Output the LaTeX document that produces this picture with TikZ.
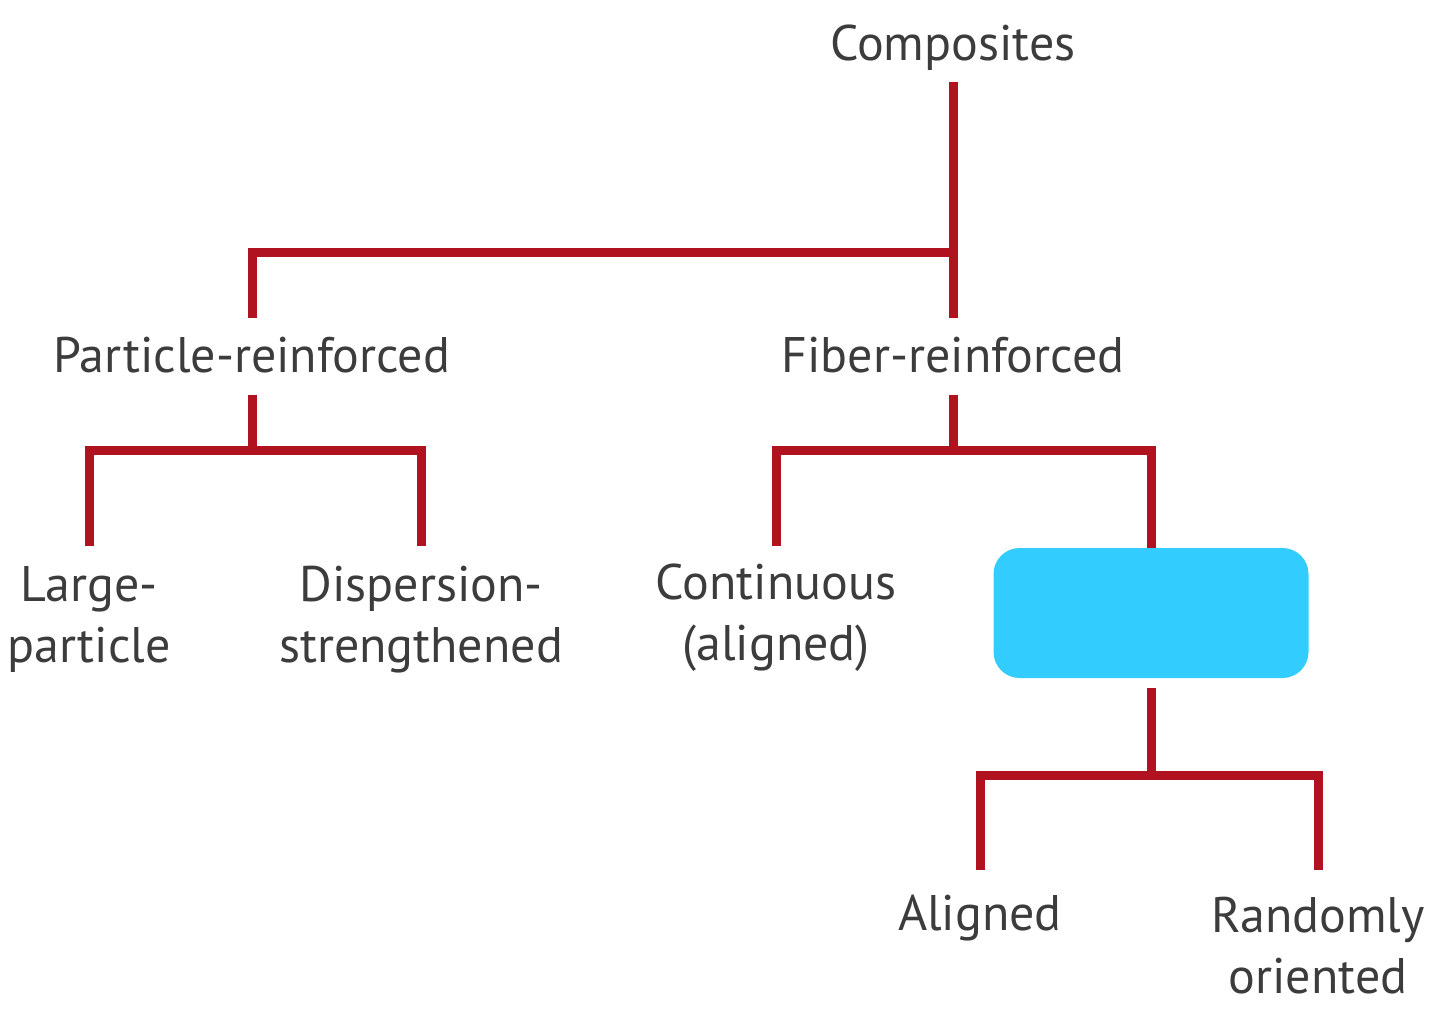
\documentclass[tikz,border=0pt]{standalone}
\usepackage{fontspec}
\setmainfont{PT Sans}
\definecolor{lnk}{HTML}{B0121F}
\definecolor{txt}{HTML}{3C3C3C}
\definecolor{hl}{HTML}{33CCFF}
\begin{document}
\begin{tikzpicture}[x=1pt,y=-1pt,
  lbl/.style={font=\fontsize{50}{61}\selectfont, text=txt, inner sep=0pt, align=center, anchor=base},
  link/.style={draw=lnk, line width=9pt, line join=miter, line cap=butt}]
\useasboundingbox (0,0) rectangle (1440,1028);
% levels
\coordinate (t1) at (0,82);
\coordinate (b1) at (0,252);
\coordinate (e1) at (0,318);
\coordinate (t2) at (0,395);
\coordinate (b2) at (0,450);
\coordinate (e2) at (0,546);
\coordinate (t3) at (0,688);
\coordinate (b3) at (0,775);
\coordinate (e3) at (0,870);
% nodes (two-line labels are anchored at the baseline of their last line)
\node[lbl] (comp) at (953,60) {Composites};
\node[lbl] (part) at (252,372) {Particle-reinforced};
\node[lbl] (fib) at (953,372) {Fiber-reinforced};
\node[lbl] (large) at (89,662) {Large-\\particle};
\node[lbl] (disp) at (421,662) {Dispersion-\\strengthened};
\node[lbl] (cont) at (776,660) {Continuous\\(aligned)};
\node[fill=hl, rounded corners=26pt, minimum width=315pt, minimum height=130pt, inner sep=0pt] (disc) at (1151,613) {};
\node[lbl] (alig) at (980,930) {Aligned};
\node[lbl] (rand) at (1318,993) {Randomly\\oriented};
% connectors
\draw[link] (comp |- t1) -- (fib |- e1);
\draw[link] (comp |- b1) -| (part |- e1);
\draw[link] (part |- t2) -- (part |- b2);
\draw[link] (large |- e2) |- (part |- b2) -| (disp |- e2);
\draw[link] (fib |- t2) -- (fib |- b2);
\draw[link] (cont |- e2) |- (fib |- b2) -| (disc.north);
\draw[link] (disc |- t3) -- (disc |- b3);
\draw[link] (alig |- e3) |- (disc |- b3) -| (rand |- e3);
\end{tikzpicture}
\end{document}
